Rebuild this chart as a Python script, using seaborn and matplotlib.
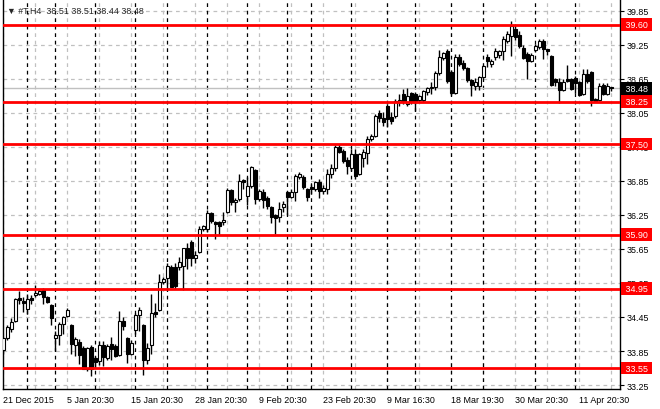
import numpy as np
import pandas as pd
import matplotlib
matplotlib.use("Agg")
import matplotlib.pyplot as plt
import seaborn as sns

# H4 candles of #T (first bar is cut by the left border)
opens = [33.87, 34.08, 34.24, 34.38, 34.79, 34.73, 34.59, 34.79, 34.84, 34.86,
         34.93, 34.80, 34.66, 34.08, 34.13, 34.33, 34.47, 34.31, 33.96, 34.01,
         33.90, 33.53, 33.92, 33.73, 33.67, 33.96, 33.73, 33.98, 33.94, 33.78,
         34.38, 34.08, 33.80, 34.22, 34.49, 34.31, 33.69, 33.96, 34.54, 34.58,
         35.07, 35.14, 35.33, 35.33, 35.33, 35.35, 35.67, 35.77, 35.49, 35.60,
         36.00, 36.00, 36.29, 36.13, 36.13, 36.13, 36.30, 36.69, 36.47, 36.53,
         36.87, 36.58, 36.76, 37.04, 36.53, 36.65, 36.55, 36.39, 36.24, 36.22,
         36.39, 36.65, 36.57, 36.65, 36.92, 36.92, 36.71, 36.74, 36.71, 36.83,
         36.67, 36.71, 36.97, 37.08, 37.45, 37.38, 37.22, 37.08, 37.33, 36.97,
         37.26, 37.34, 37.59, 37.64, 38.05, 37.96, 38.17, 37.98, 37.99, 38.24,
         38.38, 38.21, 38.40, 38.38, 38.28, 38.28, 38.42, 38.49, 38.51, 38.75,
         39.02, 39.14, 38.77, 38.40, 39.04, 38.93, 38.84, 38.63, 38.53, 38.53,
         38.68, 39.04, 38.91, 39.04, 39.07, 39.14, 39.32, 39.41, 39.52, 39.42,
         39.20, 39.09, 38.97, 39.16, 39.21, 39.32, 39.18, 39.05, 38.65, 38.60,
         38.46, 38.65, 38.65, 38.67, 38.60, 38.38, 38.74, 38.77, 38.30, 38.28,
         38.54, 38.38, 38.51]
highs = [34.10, 34.30, 34.43, 34.79, 34.91, 34.80, 34.86, 34.84, 35.01, 34.95,
         34.96, 34.82, 34.68, 34.20, 34.36, 34.47, 34.60, 34.33, 34.10, 34.06,
         33.93, 33.92, 33.95, 33.76, 34.02, 34.03, 33.97, 34.10, 33.97, 34.55,
         34.45, 34.10, 34.05, 34.52, 34.62, 34.33, 34.00, 34.85, 34.70, 35.20,
         35.15, 35.40, 35.36, 35.40, 35.50, 35.67, 35.76, 35.80, 35.62, 36.05,
         36.08, 36.33, 36.31, 36.15, 36.14, 36.30, 36.73, 36.71, 36.55, 36.98,
         36.88, 36.92, 37.12, 37.06, 36.70, 36.70, 36.58, 36.40, 36.26, 36.47,
         36.50, 36.68, 36.70, 36.97, 37.00, 36.95, 36.73, 36.80, 36.85, 36.88,
         36.77, 37.06, 37.15, 37.49, 37.50, 37.42, 37.27, 37.41, 37.41, 37.35,
         37.41, 37.64, 37.68, 38.03, 38.10, 38.07, 38.21, 38.07, 38.30, 38.38,
         38.47, 38.49, 38.42, 38.42, 38.37, 38.46, 38.51, 38.60, 38.78, 39.15,
         39.13, 39.18, 38.80, 39.08, 39.08, 38.98, 38.86, 38.65, 38.66, 38.70,
         38.90, 39.09, 39.00, 39.20, 39.16, 39.40, 39.49, 39.67, 39.62, 39.50,
         39.25, 39.12, 39.10, 39.26, 39.36, 39.36, 39.18, 39.07, 38.67, 38.67,
         38.65, 38.90, 38.67, 38.70, 38.62, 38.82, 38.82, 38.79, 38.31, 38.58,
         38.58, 38.57, 38.51]
lows = [33.80, 34.05, 34.18, 34.36, 34.68, 34.53, 34.50, 34.68, 34.81, 34.84,
        34.68, 34.70, 34.30, 33.85, 33.96, 34.15, 34.45, 33.80, 33.77, 33.62,
        33.53, 33.50, 33.41, 33.55, 33.60, 33.58, 33.70, 33.69, 33.74, 33.76,
        34.22, 33.64, 33.78, 34.15, 34.20, 33.43, 33.62, 33.80, 34.45, 34.55,
        35.03, 34.92, 34.98, 34.95, 35.28, 34.92, 35.30, 35.35, 35.40, 35.58,
        35.97, 35.95, 36.10, 35.83, 35.90, 36.08, 36.28, 36.42, 36.30, 36.50,
        36.70, 36.42, 36.72, 36.45, 36.50, 36.38, 36.35, 36.10, 35.92, 36.12,
        36.30, 36.25, 36.55, 36.50, 36.89, 36.70, 36.50, 36.62, 36.68, 36.55,
        36.62, 36.62, 36.90, 37.03, 37.34, 37.17, 36.97, 37.02, 36.88, 36.95,
        37.10, 37.15, 37.55, 37.62, 37.89, 37.82, 37.80, 37.86, 37.96, 38.17,
        38.21, 38.17, 38.21, 38.08, 38.25, 38.24, 38.36, 38.38, 38.45, 38.72,
        38.99, 38.57, 38.36, 38.38, 38.88, 38.80, 38.60, 38.35, 38.46, 38.45,
        38.66, 38.86, 38.86, 38.98, 39.02, 38.98, 39.28, 39.05, 39.33, 39.20,
        39.00, 38.65, 38.95, 39.12, 39.17, 39.00, 39.07, 38.52, 38.52, 38.23,
        38.44, 38.60, 38.45, 38.40, 38.35, 38.36, 38.58, 38.17, 38.25, 38.26,
        38.36, 38.36, 38.44]
closes = [34.08, 34.27, 34.36, 34.77, 34.75, 34.70, 34.77, 34.75, 34.87, 34.91,
          34.80, 34.72, 34.43, 34.13, 34.33, 34.45, 34.57, 33.97, 34.06, 33.78,
          33.53, 33.90, 33.53, 33.66, 33.96, 33.74, 33.94, 33.88, 33.76, 34.38,
          34.29, 33.80, 34.00, 34.49, 34.57, 33.69, 33.90, 34.52, 34.50, 35.07,
          35.12, 35.35, 34.98, 35.00, 35.42, 35.67, 35.49, 35.49, 35.55, 36.00,
          36.06, 36.29, 36.15, 36.09, 36.06, 36.16, 36.69, 36.48, 36.52, 36.85,
          36.83, 36.76, 37.10, 36.53, 36.67, 36.51, 36.41, 36.22, 36.20, 36.36,
          36.44, 36.57, 36.65, 36.94, 36.97, 36.74, 36.57, 36.71, 36.83, 36.67,
          36.73, 36.97, 37.08, 37.45, 37.36, 37.20, 37.11, 37.33, 36.94, 37.33,
          37.36, 37.59, 37.64, 37.99, 37.96, 37.89, 37.94, 37.91, 38.26, 38.28,
          38.24, 38.35, 38.24, 38.26, 38.35, 38.44, 38.49, 38.51, 38.75, 39.04,
          39.11, 38.61, 38.40, 39.04, 38.92, 38.84, 38.63, 38.54, 38.60, 38.68,
          38.88, 38.97, 38.97, 39.14, 39.14, 39.35, 39.44, 39.58, 39.38, 39.23,
          39.02, 38.97, 39.07, 39.23, 39.32, 39.18, 39.14, 38.54, 38.60, 38.46,
          38.60, 38.61, 38.47, 38.58, 38.37, 38.74, 38.61, 38.28, 38.26, 38.53,
          38.38, 38.53, 38.48]

levels = [39.60, 38.25, 37.50, 35.90, 34.95, 33.55]
ytick_vals = [39.85, 39.25, 38.65, 38.05, 37.45, 36.85, 36.25, 35.65,
              35.05, 34.45, 33.85, 33.25]
xtick_pos = [0, 16, 32, 48, 64, 80, 96, 112, 128, 144]
xtick_labels = ["21 Dec 2015", "5 Jan 20:30", "15 Jan 20:30", "28 Jan 20:30",
                "9 Feb 20:30", "23 Feb 20:30", "9 Mar 16:30", "18 Mar 19:30",
                "30 Mar 20:30", "11 Apr 20:30"]
# weekly period separators (bar index)
separators = [6, 13, 23, 33, 41, 51, 61, 71, 77, 87, 96, 103, 112, 120, 133, 143]

df = pd.DataFrame({"open": opens, "high": highs, "low": lows, "close": closes})
df["bar"] = np.arange(len(df))
df["up"] = df["close"] >= df["open"]
body = (df["close"] - df["open"]).where((df["close"] - df["open"]).abs() > 0.008, 0.008)

sns.set_style("white")
plt.rcParams["font.family"] = ["Liberation Sans", "DejaVu Sans"]
fs = 6.4

fig = plt.figure(figsize=(6.6, 4.1), dpi=100)
ax = fig.add_axes([3 / 660, 20 / 410, 617 / 660, 389 / 410])

grid_kw = dict(color="#c0c0c0", lw=0.9, ls=(0, (3, 3)))
ax.set_xticks(np.arange(0, 154, 8), minor=True)
ax.set_xticks(xtick_pos)
ax.set_xticklabels(xtick_labels)
ax.set_yticks(ytick_vals)
ax.set_yticklabels([f"{v:.2f}" for v in ytick_vals])
ax.grid(True, which="both", **grid_kw)
ax.set_axisbelow(True)

for s in separators:
    ax.axvline(s, color="black", lw=0.9, ls=(0, (3, 3)), zorder=1)

ax.axhline(closes[-1], color="#c0c0c0", lw=1, zorder=1.5)

ax.vlines(df["bar"], df["low"], df["high"], color="black", lw=1, zorder=3)
ax.bar(df["bar"], body, bottom=df["open"], width=0.7,
       color=np.where(df["up"], "white", "black"), edgecolor="black",
       linewidth=0.8, zorder=4)

box_kw = dict(ha="left", va="center", color="white", fontsize=fs, clip_on=False,
              zorder=10, transform=ax.get_yaxis_transform())
for lv in levels:
    ax.axhline(lv, color="red", lw=2, zorder=5)
    ax.text(1.0045, lv, f" {lv:.2f} ", **box_kw,
            bbox=dict(boxstyle="square,pad=0.22", fc="red", ec="none"))
ax.text(1.0045, closes[-1], f" {closes[-1]:.2f} ", **box_kw,
        bbox=dict(boxstyle="square,pad=0.22", fc="black", ec="none"))

ax.set_xlim(-0.08, 154.2)
ax.set_ylim(33.18, 40.04)

ax.yaxis.tick_right()
ax.tick_params(axis="y", which="major", direction="out", length=3, width=0.8,
               pad=2, colors="black", labelsize=fs)
ax.tick_params(axis="x", which="major", direction="out", length=3, width=0.8,
               pad=1.5, colors="black", labelsize=fs)
ax.tick_params(axis="x", which="minor", length=0)
for lab in ax.get_xticklabels():
    lab.set_ha("left")

for side in ["left", "bottom", "right"]:
    ax.spines[side].set_color("black")
    ax.spines[side].set_linewidth(1)
ax.spines["top"].set_visible(False)

head = f"{opens[-1]:.2f} {highs[-1]:.2f} {lows[-1]:.2f} {closes[-1]:.2f}"
fig.text(7 / 660, 1 - 11 / 410, "\u25bc #T,H4  " + head, fontsize=fs,
         va="center", ha="left")

fig.savefig("out.png", dpi=100)
